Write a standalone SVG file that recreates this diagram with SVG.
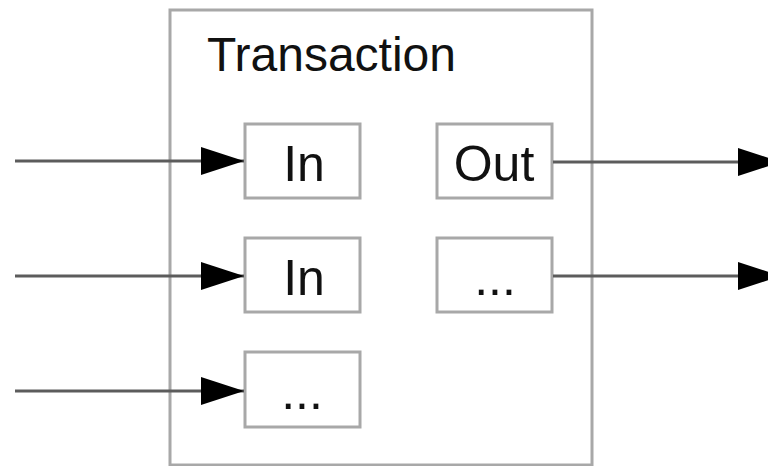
<svg xmlns="http://www.w3.org/2000/svg" width="768" height="466" viewBox="0 0 768 466">
  <style>
    .frame { fill: #ffffff; stroke: #a8a8a8; stroke-width: 3; }
    .port { fill: #ffffff; stroke: #a8a8a8; stroke-width: 3; }
    .label { font-family: "Liberation Sans", Arial, sans-serif; font-size: 48px; fill: #111111; }
    .port-label { font-family: "Liberation Sans", Arial, sans-serif; font-size: 50px; fill: #111111; text-anchor: middle; }
    .wire { stroke: #5c5c5c; stroke-width: 3; fill: none; marker-end: url(#arrow); }
  </style>
  <defs>
    <marker id="arrow" markerUnits="userSpaceOnUse" markerWidth="44" markerHeight="30" refX="43" refY="15" orient="auto">
      <path d="M0,1 L43,15 L0,29 Z" fill="#000000"/>
    </marker>
  </defs>

  <rect width="768" height="466" fill="#ffffff"/>

  <!-- transaction container -->
  <g id="transaction">
    <rect class="frame" x="170" y="10" width="422" height="455"/>
    <text class="label" x="207" y="71">Transaction</text>
  </g>

  <!-- inputs -->
  <g id="in1">
    <rect class="port" x="245" y="124" width="115" height="74"/>
    <text class="port-label" x="304" y="181">In</text>
  </g>
  <g id="in2">
    <rect class="port" x="245" y="238" width="115" height="74"/>
    <text class="port-label" x="304" y="295">In</text>
  </g>
  <g id="in-more">
    <rect class="port" x="245" y="352" width="115" height="75"/>
    <text class="port-label" x="302" y="409">...</text>
  </g>

  <!-- outputs -->
  <g id="out1">
    <rect class="port" x="437" y="124" width="115" height="74"/>
    <text class="port-label" x="494" y="181">Out</text>
  </g>
  <g id="out-more">
    <rect class="port" x="437" y="238" width="115" height="74"/>
    <text class="port-label" x="495" y="295">...</text>
  </g>

  <!-- connectors -->
  <g id="connectors">
    <line class="wire" x1="15" y1="161" x2="244" y2="161"/>
    <line class="wire" x1="15" y1="276" x2="244" y2="276"/>
    <line class="wire" x1="15" y1="391" x2="244" y2="391"/>
    <line class="wire" x1="553" y1="162" x2="781" y2="162"/>
    <line class="wire" x1="553" y1="276" x2="781" y2="276"/>
  </g>
</svg>
